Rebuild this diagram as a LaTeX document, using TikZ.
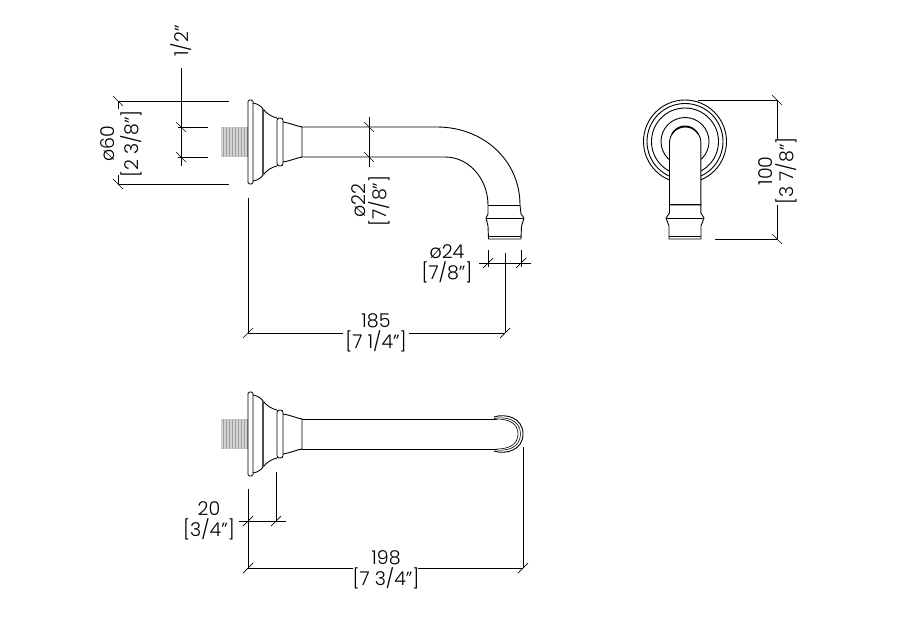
\documentclass[tikz,border=0pt]{standalone}
\usepackage{fontspec}
\setmainfont{Poppins Light}
\begin{document}
\begin{tikzpicture}[x=1pt,y=-1pt,
        body/.style={draw, line width=0.9pt, line join=round},
        dimline/.style={draw, line width=0.7pt},
        dimtext/.style={align=center, inner sep=0pt, font=\fontsize{19}{21.5}\selectfont}]
        \useasboundingbox (0,0) rectangle (898,621);

        \foreach \cy in {142,434} {
            \fill[gray!35] (221,\cy-15) rectangle (248,\cy+15);
            \foreach \rx in {223,226,...,247}
                \draw[gray!75, line width=0.5pt] (\rx,\cy-15) -- (\rx,\cy+15);
            \draw[body, rounded corners=1.5pt] (248,\cy-42) rectangle (253,\cy+42);
            \draw[body] (253,\cy-39) .. controls (258,\cy-38) and (261,\cy-36) .. (263,\cy-33) .. controls (267,\cy-28) and (272,\cy-25) .. (277,\cy-24);
            \draw[body] (253,\cy+39) .. controls (258,\cy+38) and (261,\cy+36) .. (263,\cy+33) .. controls (267,\cy+28) and (272,\cy+25) .. (277,\cy+24);
            \draw[body, line width=1.6pt, draw=black!70] (263,\cy-33) -- (263,\cy+33);
            \draw[body, rounded corners=2.5pt] (277,\cy-24) rectangle (283,\cy+24);
            \draw[body] (283,\cy-20) .. controls (290,\cy-19) and (296,\cy-16) .. (302,\cy-15) -- (302,\cy+15) .. controls (296,\cy+16) and (290,\cy+19) .. (283,\cy+20);
        }

        \draw[body] (302,127) -- (437,127) .. controls (483,127) and (520,160) .. (520,205);
        \draw[body] (302,157) -- (445,157) .. controls (470,157) and (488,180) .. (488,205);
        \draw[body] (488,205) -- (520,205);
        \draw[body] (488,205) -- (488,214) -- (486,218) -- (488,226) -- (488.5,239) -- (521,239) -- (521.5,226) -- (524,218) -- (521,214) -- (520,205);
        \draw[body] (486,218) -- (524,218);
        \draw[body, line width=0.6pt] (488.5,236) -- (521,236);

        \draw[body] (302,419) -- (497,419);
        \draw[body] (302,449) -- (497,449);
        \draw[body] (494,417) .. controls (506,413) and (523,418) .. (523,434) .. controls (523,450) and (506,455) .. (494,451);
        \draw[body, line width=0.6pt] (494,418.5) .. controls (506,416) and (520.5,420) .. (520.5,434) .. controls (520.5,448) and (506,452) .. (494,449.5);
        \draw[body, line width=0.6pt] (497,419) .. controls (508,419) and (518,423) .. (518,434) .. controls (518,445) and (508,449) .. (497,449);

        \foreach \rr in {41.5,38,33.5,24}
            \draw[body] (685,141.5) circle (\rr);
        \draw[body, fill=white] (669.5,205) -- (669.5,142.7) arc[start angle=180, end angle=360, radius=15.7] -- (700.9,205) -- cycle;
        \draw[body, line width=1.3pt] (672,134) arc[start angle=208, end angle=332, radius=14.8];
        \draw[body] (669.5,204) -- (700.9,204);
        \draw[body] (669.5,204) -- (669.5,213) -- (666,218) -- (669,226) -- (669,239) -- (701,239) -- (701,226) -- (704,218) -- (700.9,213) -- (700.9,204);
        \draw[body] (666,218) -- (704,218);
        \draw[body, line width=0.6pt] (669,236) -- (701,236);

        \draw[dimline] (181,68) -- (181,166);
        \draw[dimline] (178,127) -- (208,127);
        \draw[dimline] (178,157) -- (208,157);
        \draw[dimline] (118,101) -- (229,101);
        \draw[dimline] (118,184) -- (229,184);
        \draw[dimline] (118,101) -- (118,109);
        \draw[dimline] (118,175) -- (118,184);
        \draw[dimline] (369,117) -- (369,167);
        \draw[dimline] (479,263) -- (531,263);
        \draw[dimline] (488,250) -- (488,267);
        \draw[dimline] (521,250) -- (521,267);
        \draw[dimline] (505,253) -- (505,333);
        \draw[dimline] (248,198) -- (248,333);
        \draw[dimline] (248,333) -- (343,333);
        \draw[dimline] (409,333) -- (505,333);
        \draw[dimline] (698,100) -- (777,100);
        \draw[dimline] (715,239) -- (777,239);
        \draw[dimline] (777,100) -- (777,139);
        \draw[dimline] (777,205) -- (777,239);
        \draw[dimline] (248,489) -- (248,568);
        \draw[dimline] (276,472) -- (276,521);
        \draw[dimline] (239,521) -- (286,521);
        \draw[dimline] (523,447) -- (523,568);
        \draw[dimline] (248,568) -- (353,568);
        \draw[dimline] (418,568) -- (523,568);

        \foreach \tx/\ty in {181/127,181/157,118/101,118/184,369/127,369/157,777/100,777/239}
            \draw[dimline] (\tx-5,\ty-5) -- (\tx+5,\ty+5);
        \foreach \tx/\ty in {488/263,521/263,248/333,505/333,248/521,276/521,248/568,523/568}
            \draw[dimline] (\tx-5,\ty+5) -- (\tx+5,\ty-5);

        \node[dimtext, rotate=90] (HalfInch) at (181,41) {1/2"};
        \node[dimtext, rotate=90, font=\fontsize{19}{24}\selectfont] (Flange) at (121,144) {ø60\\{[2 3/8"]}};
        \node[dimtext, rotate=90] (Tube) at (371,201) {ø22\\{[7/8"]}};
        \node[dimtext] (Outlet) at (447,264) {ø24\\{[7/8"]}};
        \node[dimtext] (Reach) at (376,333) {185\\{[7 1/4"]}};
        \node[dimtext, rotate=90] (Height) at (778,171) {100\\{[3 7/8"]}};
        \node[dimtext] (Collar) at (209,521) {20\\{[3/4"]}};
        \node[dimtext] (Depth) at (386,570) {198\\{[7 3/4"]}};
    \end{tikzpicture}
\end{document}
